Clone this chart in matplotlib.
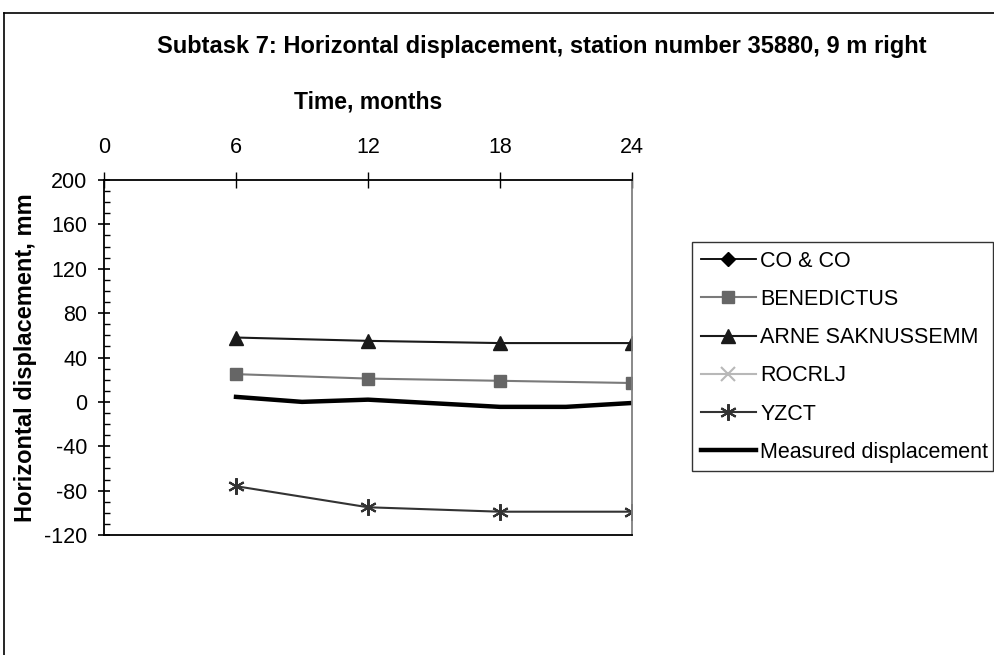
import matplotlib
matplotlib.use('Agg')
from matplotlib import pyplot as plt
from matplotlib.lines import Line2D
from matplotlib.ticker import MultipleLocator

plt.rcParams['font.family'] = ['Liberation Sans', 'DejaVu Sans']
plt.rcParams['axes.unicode_minus'] = False

# series
months = [6, 12, 18, 24]
co_co = []          # no points visible
benedictus = [25, 21, 19, 17]
arne = [58, 55, 53, 53]
rocrlj = []         # no points visible
yzct = [-76, -95, -99, -99]
meas_months = [6, 9, 12, 18, 21, 24]
measured = [4.5, 0, 2, -4.5, -4.5, -1]

fig = plt.figure(figsize=(9.94, 6.55), dpi=100)
# chart area border (left and top edges visible only)
fig.lines.append(Line2D([4 / 994, 4 / 994], [0, 1 - 13 / 655], transform=fig.transFigure,
                        color='black', lw=1.2))
fig.lines.append(Line2D([4 / 994, 1], [1 - 13 / 655, 1 - 13 / 655], transform=fig.transFigure,
                        color='black', lw=1.2))

ax = fig.add_axes([104 / 994, 1 - 535 / 655, 528 / 994, 355 / 655])

ax.plot(months[:len(co_co)], co_co, color='black', marker='D', markersize=7, lw=1.3, label='CO & CO')
ax.plot(months, benedictus, color='#7a7a7a', marker='s', markersize=9,
        markerfacecolor='#666666', markeredgecolor='#666666', lw=1.5, label='BENEDICTUS')
ax.plot(months, arne, color='#1a1a1a', marker='^', markersize=10, lw=1.5, label='ARNE SAKNUSSEMM')
ax.plot(months[:len(rocrlj)], rocrlj, color='#b8b8b8', marker='x', markersize=10, lw=1.5,
        markeredgewidth=1.5, label='ROCRLJ')
ax.plot(months, yzct, color='#333333', marker=(6, 2, 0), markersize=12, lw=1.5,
        markeredgewidth=1.5, label='YZCT')
ax.plot(meas_months, measured, color='black', lw=3.2, label='Measured displacement')

ax.set_xlim(0, 24)
ax.set_ylim(-120, 200)
ax.xaxis.tick_top()
ax.xaxis.set_label_position('top')
ax.set_xticks([0, 6, 12, 18, 24])
ax.set_yticks(range(-120, 201, 40))
ax.yaxis.set_minor_locator(MultipleLocator(10))
ax.tick_params(axis='x', direction='inout', length=12, width=1, labelsize=15.5, pad=9.5)
ax.tick_params(axis='y', which='major', direction='inout', length=8, width=1.2, labelsize=15.5, pad=8)
ax.tick_params(axis='y', which='minor', direction='in', length=4, width=1)
ax.set_xlabel('Time, months', fontsize=16.5, fontweight='bold', labelpad=20.5)
ax.set_ylabel('Horizontal displacement, mm', fontsize=17, fontweight='bold', labelpad=5)

for s in ['left', 'top', 'bottom']:
    ax.spines[s].set_linewidth(1.3)
    ax.spines[s].set_color('black')
ax.spines['right'].set_color('#808080')
ax.spines['right'].set_linewidth(1.3)

fig.text(542 / 994, 1 - 47 / 655, 'Subtask 7: Horizontal displacement, station number 35880, 9 m right',
         ha='center', va='center', fontsize=17, fontweight='bold')

leg = ax.legend(loc='upper left', bbox_to_anchor=(692 / 994, 1 - 242 / 655, 301 / 994, 0),
                bbox_transform=fig.transFigure, fontsize=15.5, frameon=True, fancybox=False,
                borderpad=0.4, labelspacing=0.8, handlelength=2.55, handletextpad=0.23,
                borderaxespad=0, mode='expand')
leg.get_frame().set_edgecolor('black')
leg.get_frame().set_linewidth(1)

fig.savefig('out.png', dpi=100)
